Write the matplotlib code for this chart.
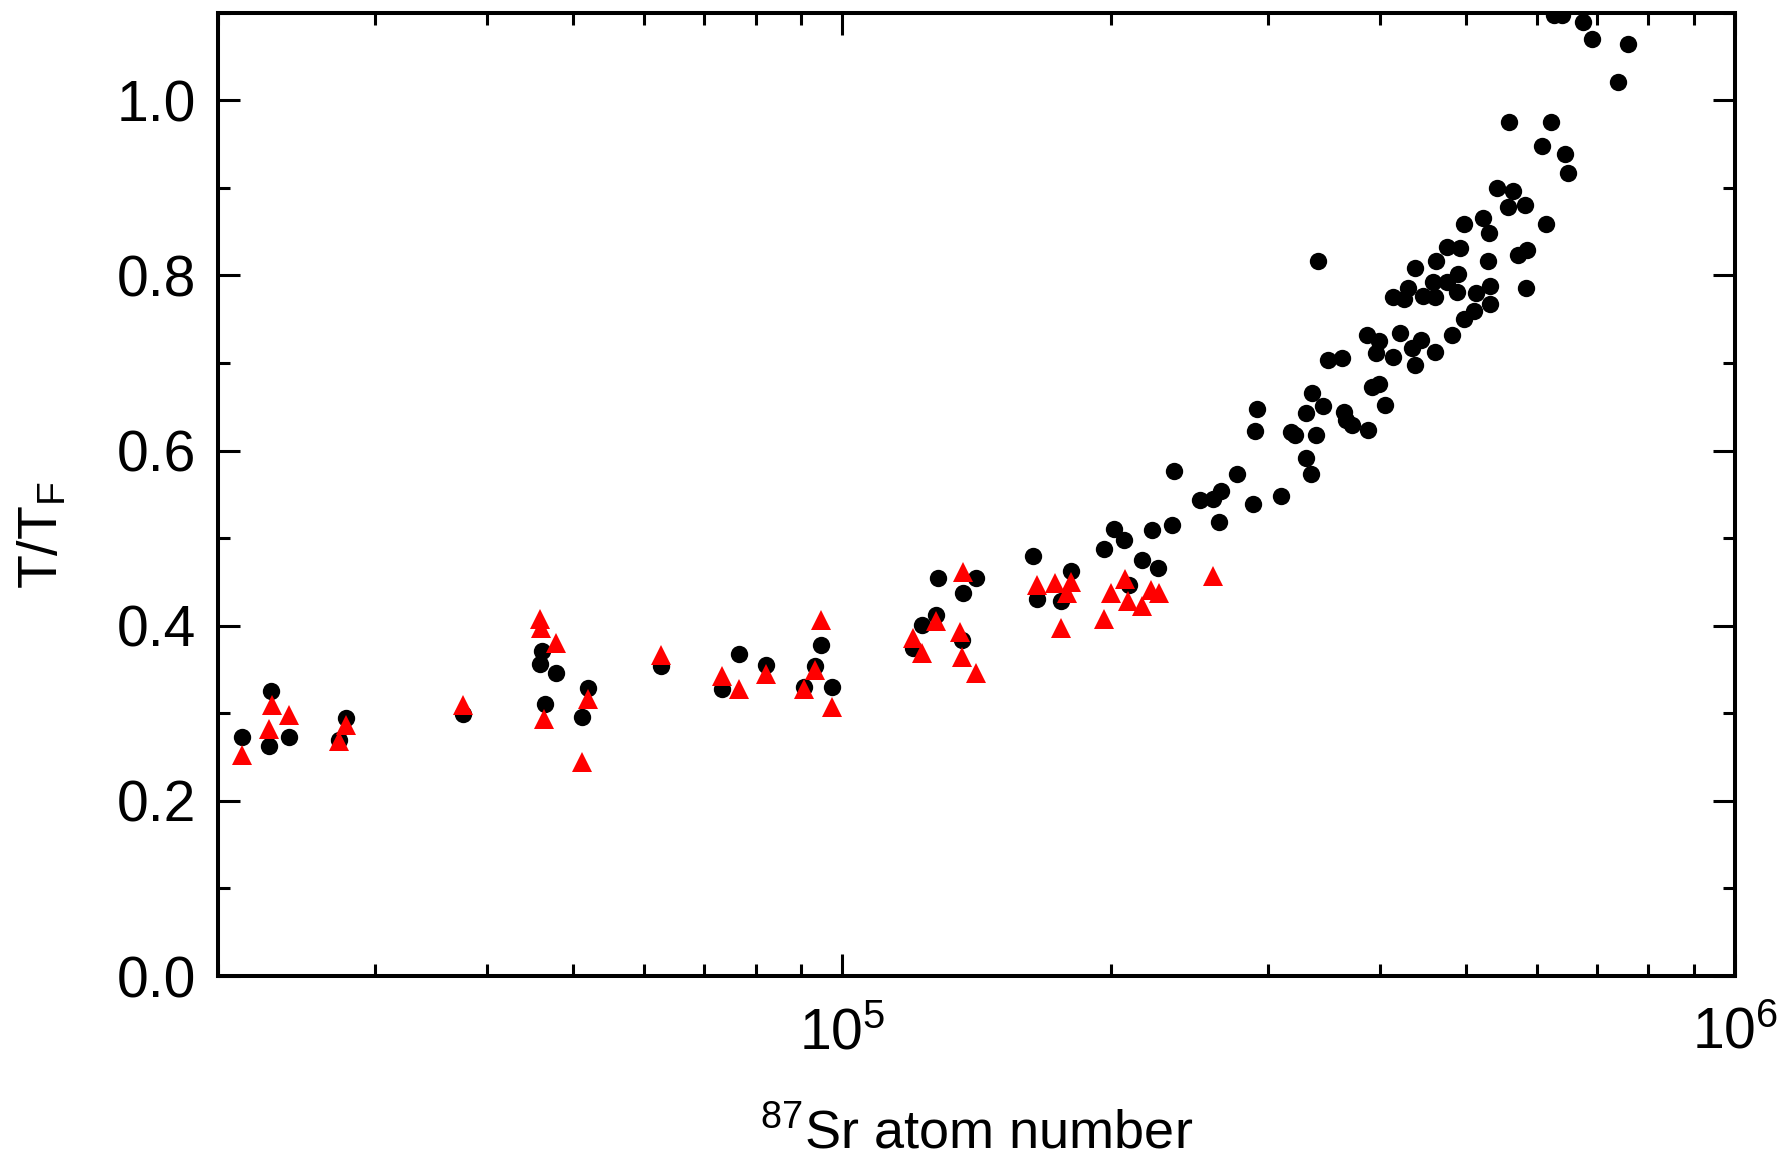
import matplotlib
matplotlib.use("Agg")
import matplotlib.pyplot as plt
from matplotlib.ticker import LogLocator, MultipleLocator, FormatStrFormatter, NullFormatter

plt.rcParams["font.family"] = ["Liberation Sans", "DejaVu Sans"]
plt.rcParams["mathtext.fontset"] = "custom"
plt.rcParams["mathtext.rm"] = "Liberation Sans"
plt.rcParams["mathtext.it"] = "Liberation Sans:italic"
plt.rcParams["mathtext.bf"] = "Liberation Sans:bold"

# Atom number and T/T_F, first data set (black circles)
n_circles = [
    21300, 22800, 22900, 24000, 27300, 27800, 37600, 45900, 46100, 46500,
    47800, 51100, 51900, 62600, 73400, 76700, 82100, 90700, 93200, 94800,
    97400, 120000, 122900, 127300, 128000, 136200, 136600, 141100, 163400, 165400,
    175900, 180600, 196700, 201400, 206800, 209800, 216700, 222500, 225800, 233900,
    235300, 251800, 260100, 264000, 265500, 276600, 288300, 290000, 291700, 310200,
    318500, 321400, 331000, 331000, 334900, 335900, 339800, 340800, 345900, 350000,
    362600, 364700, 366800, 372300, 387900, 386800, 392600, 399600, 396100, 399600,
    405500, 414000, 414000, 421300, 426300, 430100, 435100, 437700, 437700, 445500,
    446800, 458800, 461500, 461500, 462900, 475300, 475300, 482400, 488000, 489500,
    492300, 496600, 496600, 509900, 513000, 522200, 528400, 529900, 531400, 531400,
    540900, 557000, 558700, 563600, 571900, 582100, 583800, 585600, 608400, 613800,
    622900, 626600, 639600, 645200, 650900, 676200, 692400, 738800, 758500,
]
t_circles = [
    0.273, 0.263, 0.325, 0.273, 0.269, 0.295, 0.299, 0.356, 0.371, 0.311,
    0.346, 0.296, 0.329, 0.354, 0.328, 0.368, 0.355, 0.330, 0.354, 0.378,
    0.330, 0.375, 0.401, 0.412, 0.454, 0.384, 0.437, 0.455, 0.480, 0.431,
    0.428, 0.462, 0.488, 0.510, 0.498, 0.446, 0.475, 0.509, 0.466, 0.515,
    0.577, 0.544, 0.545, 0.519, 0.554, 0.573, 0.539, 0.622, 0.647, 0.548,
    0.621, 0.618, 0.643, 0.592, 0.573, 0.666, 0.618, 0.816, 0.651, 0.703,
    0.706, 0.644, 0.635, 0.629, 0.623, 0.732, 0.673, 0.676, 0.712, 0.725,
    0.652, 0.707, 0.776, 0.734, 0.773, 0.786, 0.717, 0.698, 0.808, 0.726,
    0.777, 0.792, 0.776, 0.713, 0.816, 0.793, 0.833, 0.732, 0.781, 0.802,
    0.831, 0.859, 0.750, 0.759, 0.780, 0.866, 0.816, 0.849, 0.788, 0.767,
    0.900, 0.878, 0.975, 0.897, 0.823, 0.880, 0.786, 0.829, 0.948, 0.859,
    0.975, 1.097, 1.098, 0.939, 0.917, 1.090, 1.070, 1.021, 1.064,
]

# Second data set (red triangles)
n_triangles = [
    21300, 22800, 23000, 24000, 27300, 27800, 37600, 45900, 46000, 47800,
    46400, 51900, 51100, 62600, 73400, 76700, 82100, 90700, 93200, 94800,
    97400, 120000, 122900, 127300, 136600, 135400, 136200, 141100, 165400, 173300,
    180600, 178500, 175900, 200200, 207400, 196700, 209200, 216700, 221800, 226500,
    260100,
]
t_triangles = [
    0.252, 0.282, 0.309, 0.298, 0.268, 0.287, 0.309, 0.408, 0.398, 0.380,
    0.293, 0.316, 0.244, 0.367, 0.343, 0.328, 0.345, 0.328, 0.350, 0.407,
    0.307, 0.386, 0.369, 0.405, 0.461, 0.393, 0.364, 0.346, 0.446, 0.449,
    0.450, 0.437, 0.397, 0.437, 0.453, 0.408, 0.428, 0.423, 0.441, 0.437,
    0.457,
]

fig = plt.figure(figsize=(17.89, 11.61), dpi=100)
ax = fig.add_axes([0.1219, 0.1593, 0.8479, 0.8297])

ax.plot(n_circles, t_circles, linestyle="none", marker="o", markersize=12.5,
        color="black", markeredgewidth=0)
ax.plot(n_triangles, t_triangles, linestyle="none", marker="^", markersize=15,
        color="#ff0000", markeredgewidth=0)

ax.set_xscale("log")
ax.set_xlim(2e4, 1e6)
ax.set_ylim(0, 1.1)

ax.xaxis.set_major_locator(LogLocator(base=10, numticks=10))
ax.xaxis.set_minor_locator(LogLocator(base=10, subs=range(2, 10), numticks=20))
ax.xaxis.set_minor_formatter(NullFormatter())
ax.yaxis.set_major_locator(MultipleLocator(0.2))
ax.yaxis.set_minor_locator(MultipleLocator(0.1))
ax.yaxis.set_major_formatter(FormatStrFormatter("%.1f"))

for s in ax.spines.values():
    s.set_linewidth(2.9)

ax.tick_params(which="both", direction="in", top=True, right=True, width=2.2)
ax.tick_params(which="major", length=16)
ax.tick_params(which="minor", length=8.5)
ax.tick_params(axis="y", which="major", labelsize=41, pad=16)
ax.tick_params(axis="x", which="major", labelsize=41, pad=22)

ax.set_xlabel(r"$\mathregular{^{87}}$Sr atom number", fontsize=39, labelpad=34)
ax.set_ylabel(r"T/T$\mathregular{_F}$", fontsize=40)
ax.yaxis.set_label_coords(-0.098, 0.458)

fig.savefig("out.png", dpi=100)
